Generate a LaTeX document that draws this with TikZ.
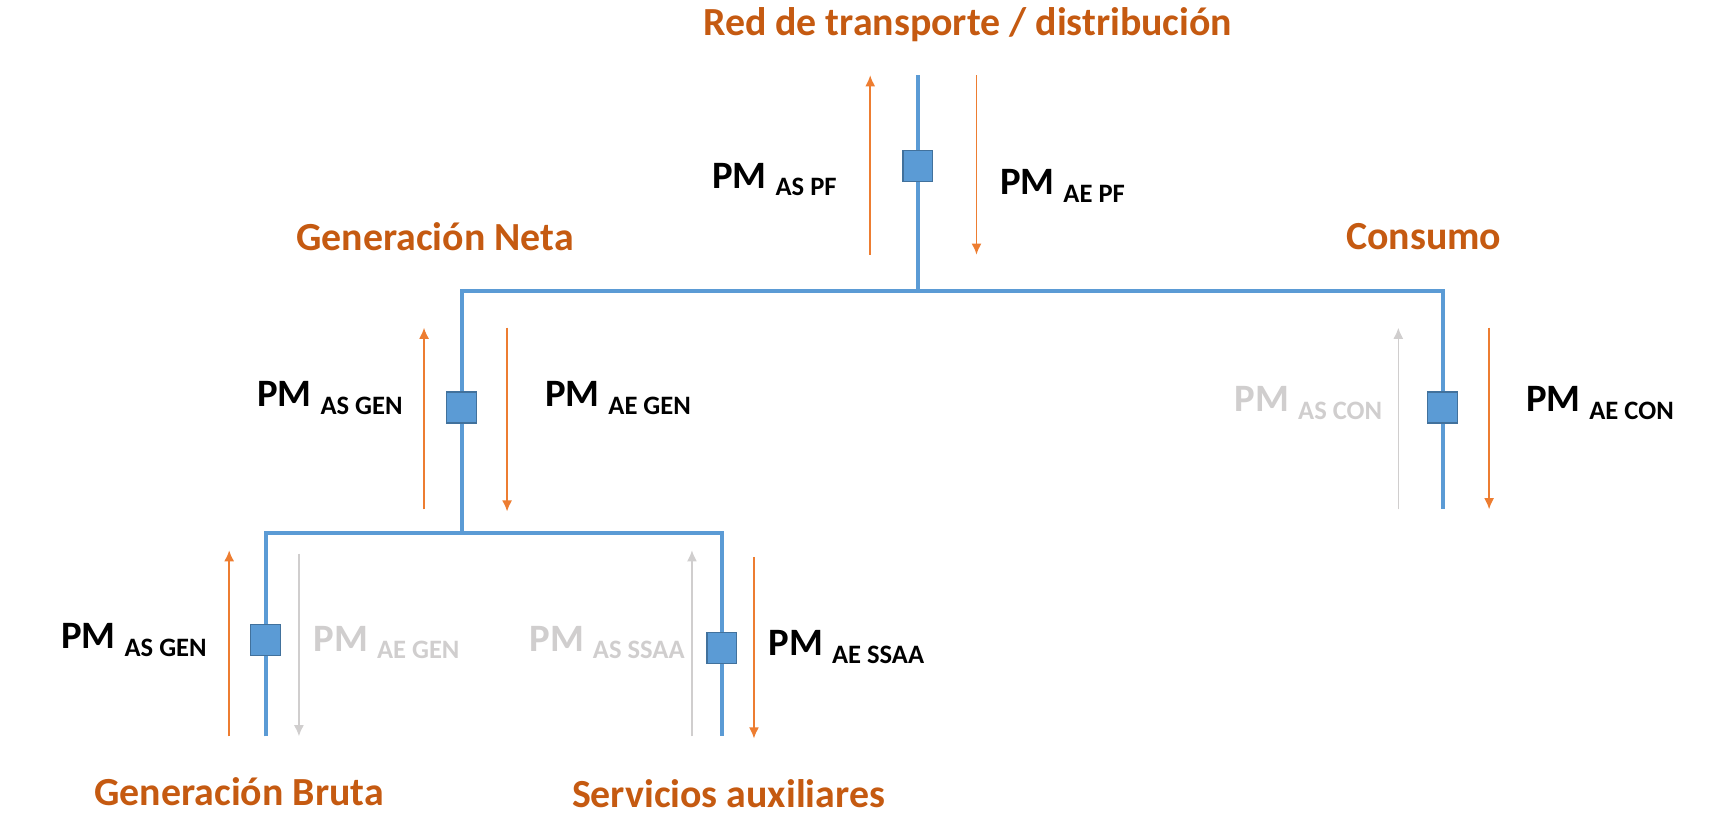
\documentclass[tikz,border=0pt]{standalone}
\usepackage{fontspec}
\setmainfont{Carlito}
\usetikzlibrary{arrows.meta,positioning}
\definecolor{busblue}{HTML}{5B9BD5}
\definecolor{meteredge}{HTML}{41719C}
\definecolor{flowor}{HTML}{ED7D31}
\definecolor{heador}{HTML}{C55A11}
\definecolor{idlegrey}{HTML}{D0CECE}
\newcommand{\pmtag}[1]{PM \raisebox{-3.5pt}{\fontsize{12}{14}\selectfont #1}}

\begin{document}
\begin{tikzpicture}[%
        x=0.5pt, y=-0.5pt,
        every node/.style={inner sep=0pt},
        bus/.style={draw=busblue, line width=1.8pt},
        meter/.style={rectangle, draw=meteredge, fill=busblue, line width=0.6pt, minimum width=13.5pt, minimum height=14pt},
        flow/.style={draw=flowor, line width=0.7pt, ->},
        idle/.style={draw=idlegrey, line width=0.7pt, ->},
        heading/.style={text=heador, font=\bfseries\fontsize{18}{21}\selectfont},
        pmlab/.style={anchor=base west, font=\bfseries\fontsize{17.5}{20}\selectfont},
        >={Latex[length=5pt,width=4.5pt]}
      ]
      \useasboundingbox (0,0) rectangle (1568,738);
      % busbars and meters
      \coordinate (top) at (829,68);
      \node [meter] (mpf) at (829,150) {};
      \coordinate (j1) at (829,263);
      \coordinate (nl) at (417,263);
      \coordinate (cr) at (1303,263);
      \node [meter] (mgen) at (417,368) {};
      \node [meter] (mcon) at (1303,368) {};
      \coordinate (cb) at (1303,460);
      \coordinate (j2) at (417,481);
      \coordinate (bl) at (240,481);
      \coordinate (br) at (652,481);
      \node [meter] (mgb) at (240,578) {};
      \node [meter] (mss) at (652,585) {};
      \coordinate (gb) at (240,665);
      \coordinate (sb) at (652,665);
      \draw [bus] (top) -- (mpf) -- (j1);
      \draw [bus] (j2) -- (mgen) -- (nl) -- (cr) -- (mcon) -- (cb);
      \draw [bus] (gb) -- (mgb) -- (bl) -- (br) -- (mss) -- (sb);
      % flow arrows
      \foreach \n/\x/\ya/\yb in {pfu/786/230/68, pfd/882/68/230, geu/383/460/296, ged/458/296/462,
        cou/1263/460/296, cod/1345/296/460, gbu/207/665/497, gbd/270/500/665, ssu/625/665/497, ssd/681/503/667}
        {\coordinate (\n s) at (\x,\ya); \coordinate (\n e) at (\x,\yb);}
      \path (pfus) edge[flow] (pfue)
      (pfds) edge[flow] (pfde)
      (geus) edge[flow] (geue)
      (geds) edge[flow] (gede)
      (cous) edge[idle] (coue)
      (cods) edge[flow] (code)
      (gbus) edge[flow] (gbue)
      (gbds) edge[idle] (gbde)
      (ssus) edge[idle] (ssue)
      (ssds) edge[flow] (ssde);
      % labels
      \node [heading] (red) at (874,22) {Red de transporte / distribución};
      \node [heading] (neta) at (393,214) {Generación Neta};
      \node [heading] (cons) at (1286,214) {Consumo};
      \node [heading] (bruta) at (216,715) {Generación Bruta};
      \node [heading] (ssaa) at (658,717) {Servicios auxiliares};
      \node [pmlab] (lpfas) at (643,170) {\pmtag{AS PF}};
      \node [pmlab] (lpfae) at (903,176) {\pmtag{AE PF}};
      \node [pmlab] (lgenas) at (232,367) {\pmtag{AS GEN}};
      \node [pmlab] (lgenae) at (492,367) {\pmtag{AE GEN}};
      \node [pmlab, text=idlegrey] (lconas) at (1115,372) {\pmtag{AS CON}};
      \node [pmlab] (lconae) at (1378,372) {\pmtag{AE CON}};
      \node [pmlab] (lgbas) at (55,586) {\pmtag{AS GEN}};
      \node [pmlab, text=idlegrey] (lgbae) at (283,588) {\pmtag{AE GEN}};
      \node [pmlab, text=idlegrey] (lssas) at (478,588) {\pmtag{AS SSAA}};
      \node [pmlab] (lssae) at (694,592) {\pmtag{AE SSAA}};
\end{tikzpicture}
\end{document}
